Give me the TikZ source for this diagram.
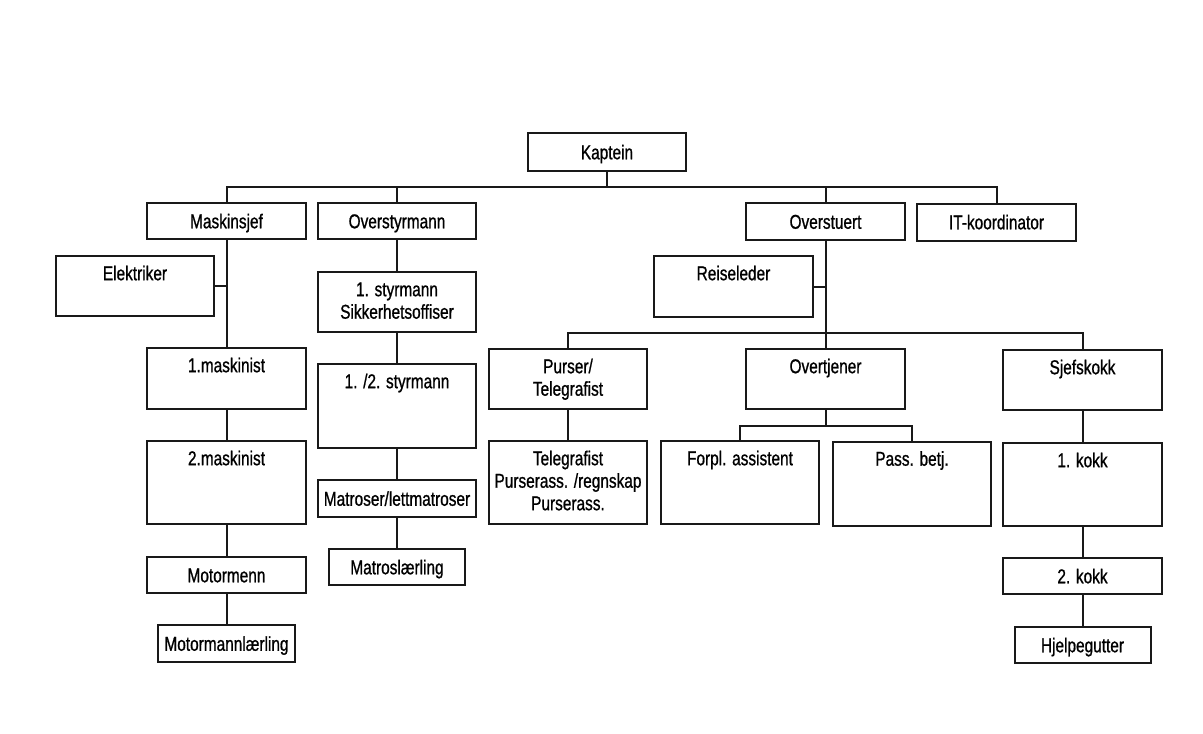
\documentclass[tikz,border=0pt]{standalone}
\usepackage{fontspec}
\setmainfont[FakeStretch=0.77, FakeBold=0.9]{Liberation Sans}
\newcommand\fl{\rule{0pt}{17pt}}
\begin{document}
\begin{tikzpicture}[x=1pt,y=-1pt,
  every node/.style={font=\fontsize{20}{22.5}\selectfont, text=black},
  box/.style={draw=black!90, line width=2pt, inner sep=0pt, text height=17pt, text depth=2.5pt},
  toplab/.style={anchor=north, yshift=-8pt, inner sep=0pt, align=center, draw=none},
  link/.style={draw=black!90, line width=2pt}]
\fill[white] (0,0) rectangle (1203,734);
\useasboundingbox (0,0) rectangle (1203,734);

% top level
\node[box, minimum width=158pt, minimum height=38pt] (kap) at (607,152) {Kaptein};
\node[box, minimum width=159pt, minimum height=36pt] (mask) at (226.5,221) {Maskinsjef};
\node[box, minimum width=158pt, minimum height=36pt] (ovs) at (397,221) {Overstyrmann};
\node[box, minimum width=159pt, minimum height=37pt] (ost) at (825.5,221.5) {Overstuert};
\node[box, minimum width=159pt, minimum height=37pt] (itk) at (996.5,222) {IT-koordinator};

% Maskinsjef column
\node[box, minimum width=158pt, minimum height=60pt, label={[toplab]north:{\fl Elektriker}}] (elek) at (135,286) {};
\node[box, minimum width=159pt, minimum height=61pt, label={[toplab]north:{\fl 1.maskinist}}] (m1) at (226.5,378.5) {};
\node[box, minimum width=159pt, minimum height=83pt, label={[toplab]north:{\fl 2.maskinist}}] (m2) at (226.5,482.5) {};
\node[box, minimum width=159pt, minimum height=36pt] (motm) at (226.5,575) {Motormenn};
\node[box, minimum width=137pt, minimum height=37pt] (mlr) at (226.5,643.5) {Motormannlærling};

% Overstyrmann column
\node[box, minimum width=158pt, minimum height=60pt, label={[toplab]north:{\fl 1. styrmann\\Sikkerhetsoffiser}}] (s1) at (397,302) {};
\node[box, minimum width=158pt, minimum height=84pt, label={[toplab]north:{\fl 1. /2. styrmann}}] (s2) at (397,406) {};
\node[box, minimum width=158pt, minimum height=37pt] (matr) at (397,498.5) {Matroser/lettmatroser};
\node[box, minimum width=136pt, minimum height=36pt] (matl) at (397,567) {Matroslærling};

% Overstuert branch
\node[box, minimum width=159pt, minimum height=61pt, label={[toplab]north:{\fl Reiseleder}}] (reis) at (733.5,286.5) {};
\node[box, minimum width=158pt, minimum height=60pt, label={[toplab]north:{\fl Purser/\\Telegrafist}}] (purs) at (568,379) {};
\node[box, minimum width=158pt, minimum height=83pt, label={[toplab]north:{\fl Telegrafist\\Purserass. /regnskap\\Purserass.}}] (tele) at (568,482.5) {};
\node[box, minimum width=159pt, minimum height=60pt, label={[toplab]north:{\fl Overtjener}}] (ovt) at (825.5,379) {};
\node[box, minimum width=158pt, minimum height=83pt, label={[toplab]north:{\fl Forpl. assistent}}] (forp) at (740,482.5) {};
\node[box, minimum width=158pt, minimum height=84pt, label={[toplab]north:{\fl Pass. betj.}}] (pass) at (912,483.5) {};
\node[box, minimum width=159pt, minimum height=60pt, label={[toplab]north:{\fl Sjefskokk}}] (sjef) at (1082.5,380) {};
\node[box, minimum width=159pt, minimum height=83pt, label={[toplab]north:{\fl 1. kokk}}] (k1) at (1082.5,484.5) {};
\node[box, minimum width=159pt, minimum height=36pt] (k2) at (1082.5,576) {2. kokk};
\node[box, minimum width=136pt, minimum height=36pt] (hjel) at (1082.5,645) {Hjelpegutter};

% connectors
\coordinate (b1) at (0,187);
\coordinate (b2) at (0,333);
\coordinate (b3) at (0,426);
\draw[link] (kap.south) -- (kap.south |- b1);
\draw[link] (mask.north) -- (mask.north |- b1) -- (itk.north |- b1) -- (itk.north);
\draw[link] (ovs.north) -- (ovs.north |- b1);
\draw[link] (ost.north) -- (ost.north |- b1);

\draw[link] (mask.south) -- (m1.north);
\draw[link] (elek.east) -- (elek.east -| mask.south);
\draw[link] (m1.south) -- (m2.north);
\draw[link] (m2.south) -- (motm.north);
\draw[link] (motm.south) -- (mlr.north);

\draw[link] (ovs.south) -- (s1.north);
\draw[link] (s1.south) -- (s2.north);
\draw[link] (s2.south) -- (matr.north);
\draw[link] (matr.south) -- (matl.north);

\draw[link] (ost.south) -- (ovt.north);
\draw[link] (reis.east) -- (reis.east -| ost.south);
\draw[link] (purs.north) -- (purs.north |- b2) -- (sjef.north |- b2) -- (sjef.north);
\draw[link] (purs.south) -- (tele.north);
\draw[link] (ovt.south) -- (ovt.south |- b3);
\draw[link] (forp.north) -- (forp.north |- b3) -- (pass.north |- b3) -- (pass.north);
\draw[link] (sjef.south) -- (k1.north);
\draw[link] (k1.south) -- (k2.north);
\draw[link] (k2.south) -- (hjel.north);
\end{tikzpicture}
\end{document}
